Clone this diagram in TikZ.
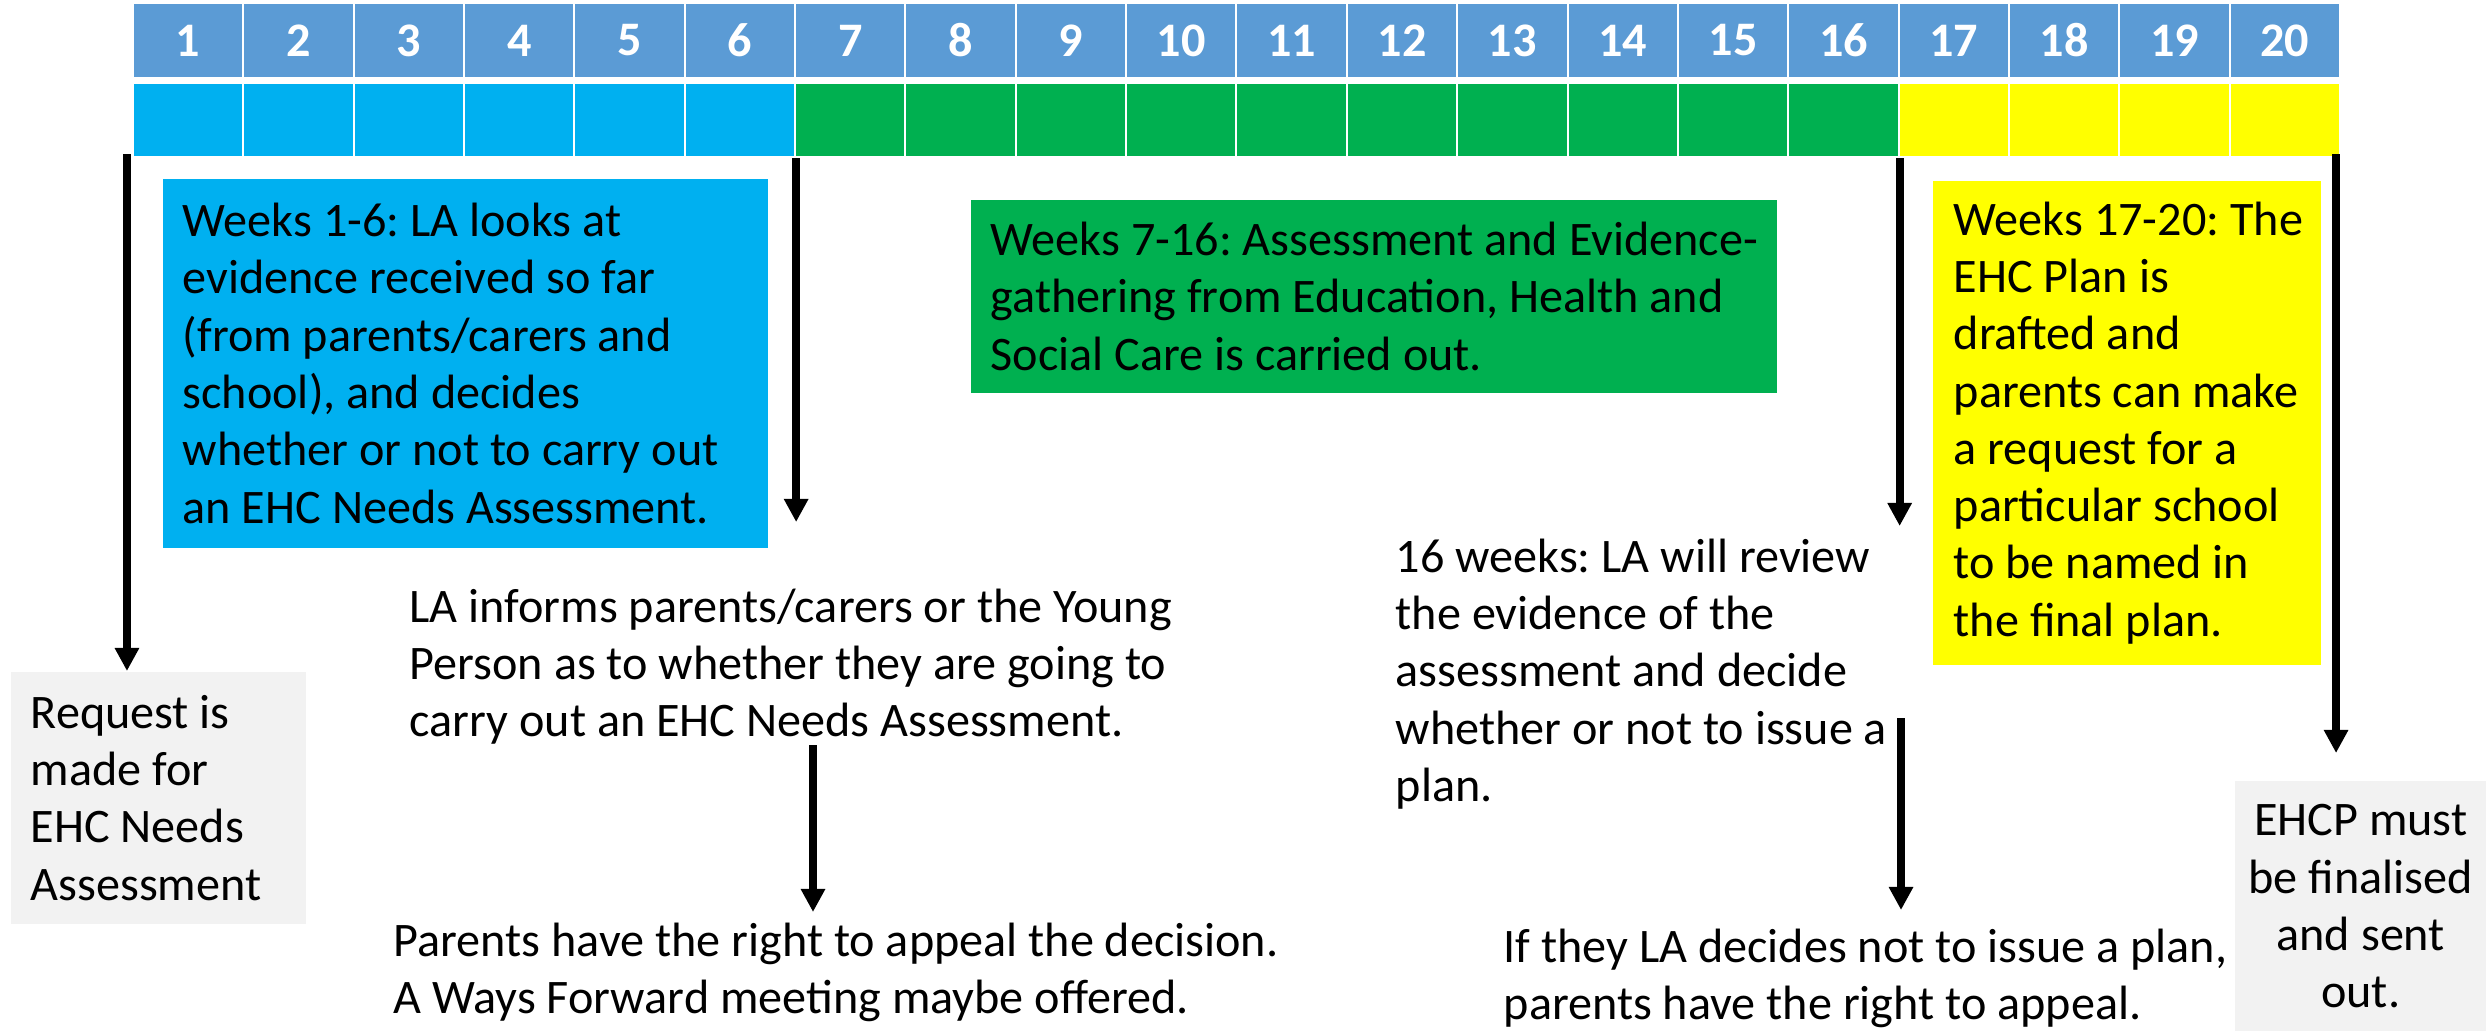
\documentclass[tikz,border=0pt]{standalone}
\usepackage{fontspec}
\setmainfont{Carlito}
\usepackage{tikz}
\usetikzlibrary{positioning,arrows.meta,calc}
\definecolor{headblue}{RGB}{91,155,213}
\definecolor{decide}{RGB}{0,176,240}
\definecolor{assess}{RGB}{0,176,80}
\definecolor{draft}{RGB}{255,255,0}
\definecolor{notegrey}{RGB}{242,242,242}
\frenchspacing

\begin{document}
\begin{tikzpicture}[
    x=0.01cm, y=-0.01cm,
    wkhead/.style={fill=headblue, draw=white, line width=0.02cm, minimum width=1.1035cm, minimum height=0.75cm, inner sep=0pt, text=white, font=\bfseries\fontsize{13.7}{16}\selectfont},
    wkbar/.style={draw=white, line width=0.02cm, minimum width=1.1035cm, minimum height=0.74cm, inner sep=0pt},
    panel/.style={anchor=north west, inner sep=0pt},
    note/.style={anchor=north west, align=left, inner sep=0pt, font=\fontsize{13.7}{16.3}\selectfont},
    arrow/.style={-{Triangle[length=0.23cm, width=0.23cm]}, line width=0.08cm}
]
    \useasboundingbox (0,0) rectangle (2486,1031);

    % Week numbers
    \foreach \i in {1,...,20}
        \node[wkhead] (wk\i) at ({133+(\i-0.5)*110.35}, 40.5) {\i};

    % Phase bar
    \foreach \i in {1,...,6}
        \node[wkbar, fill=decide] (bar\i) at ({133+(\i-0.5)*110.35}, 120) {};
    \foreach \i in {7,...,16}
        \node[wkbar, fill=assess] (bar\i) at ({133+(\i-0.5)*110.35}, 120) {};
    \foreach \i in {17,...,20}
        \node[wkbar, fill=draft] (bar\i) at ({133+(\i-0.5)*110.35}, 120) {};

    % Weeks 1-6
    \node[panel, fill=decide, minimum width=6.05cm, minimum height=3.69cm] (decidebox) at (162,178) {};
    \node[note, anchor=west] (decidetext) at ($(decidebox.west)+(20,0)$) {Weeks 1-6: LA looks at\\evidence received so far\\(from parents/carers and\\school), and decides\\whether or not to carry out\\an EHC Needs Assessment.};

    % Weeks 7-16
    \node[panel, fill=assess, minimum width=8.06cm, minimum height=1.93cm] (assessbox) at (970,199) {};
    \node[note, anchor=west] (assesstext) at ($(assessbox.west)+(20,0)$) {Weeks 7-16: Assessment and Evidence-\\gathering from Education, Health and\\Social Care is carried out.};

    % Weeks 17-20
    \node[panel, fill=draft, minimum width=3.88cm, minimum height=4.84cm] (draftbox) at (1932,180) {};
    \node[note, anchor=west] (drafttext) at ($(draftbox.west)+(21,0)$) {Weeks 17-20: The\\EHC Plan is\\drafted and\\parents can make\\a request for a\\particular school\\to be named in\\the final plan.};

    % Start and end
    \node[panel, fill=notegrey, minimum width=2.95cm, minimum height=2.52cm] (reqbox) at (10,671) {};
    \node[note, anchor=west] (reqtext) at ($(reqbox.west)+(20,0)$) {Request is\\made for\\EHC Needs\\Assessment};
    \node[panel, fill=notegrey, minimum width=2.52cm, minimum height=2.51cm, align=center, font=\fontsize{13.7}{16.3}\selectfont] (ehcp) at (2234,780) {EHCP must\\be finalised\\and sent\\out.};

    % Notes under the bar
    \node[note] (inform) at (409,588) {LA informs parents/carers or the Young\\Person as to whether they are going to\\carry out an EHC Needs Assessment.};
    \node[note] (appeal) at (393,922) {Parents have the right to appeal the decision.\\A Ways Forward meeting maybe offered.};
    \node[note] (review) at (1395,538) {16 weeks: LA will review\\the evidence of the\\assessment and decide\\whether or not to issue a\\plan.};
    \node[note] (noissue) at (1503,928) {If they LA decides not to issue a plan,\\parents have the right to appeal.};

    % Arrows
    \coordinate (reqfrom) at ($(bar1.south west)+(-5,-4)$);
    \coordinate (appealx) at (813,0);
    \coordinate (reviewend) at (1901,718);
    \coordinate (ehcpfrom) at ($(bar20.south east)+(-5,-4)$);
    \draw[arrow] (reqfrom) -- (reqfrom |- reqbox.north);
    \draw[arrow] (bar6.south east) -- ($(bar6.south east |- inform.north)+(0,-66)$);
    \draw[arrow, shorten >=0.1cm] (inform.south -| appealx) -- (appeal.north -| appealx);
    \draw[arrow] (bar16.south east) -- ($(bar16.south east |- review.north)+(0,-12)$);
    \draw[arrow, shorten >=0.18cm] (reviewend) -- (reviewend |- noissue.north);
    \draw[arrow, shorten >=0.27cm] (ehcpfrom) -- (ehcpfrom |- ehcp.north);
\end{tikzpicture}
\end{document}
